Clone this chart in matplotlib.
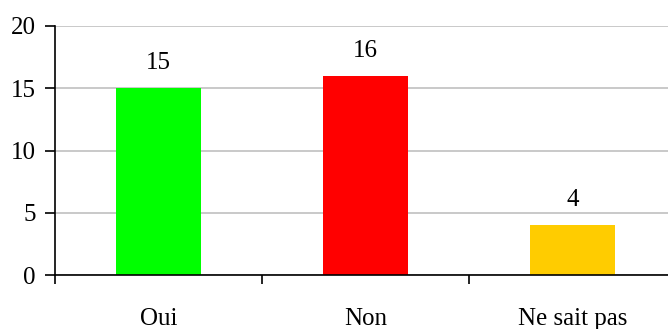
import matplotlib.pyplot as plt

categories = ['Oui', 'Non', 'Ne sait pas']
values = [15, 16, 4]
colors = ['#00ff00', '#ff0000', '#ffcc00']
yticks = [0, 5, 10, 15, 20]

plt.rcParams['font.family'] = ['Liberation Serif', 'DejaVu Serif']

fig = plt.figure(figsize=(6.68, 3.29), dpi=100)
ax = fig.add_axes([55 / 668, 54 / 329, 621 / 668, 249 / 329])

x = range(len(categories))
bars = ax.bar(x, values, width=0.41, color=colors, zorder=3)

for i, v in enumerate(values):
    ax.text(i, v + 2.0, str(v), ha='center', va='center', fontsize=18)

ax.set_xlim(-0.5, 2.5)
ax.set_ylim(0, 20)
ax.set_yticks(yticks)
ax.set_yticklabels([str(t) for t in yticks], fontsize=18)
ax.yaxis.grid(True, color='#c0c0c0', linewidth=1.2, zorder=0)

# ticks on category boundaries, labels centred under the bars
ax.set_xticks([-0.5, 0.5, 1.5, 2.5])
ax.set_xticklabels([])
ax.set_xticks(list(x), minor=True)
ax.set_xticklabels(categories, minor=True, fontsize=18)
ax.tick_params(axis='x', which='minor', length=0, pad=23.5)
ax.tick_params(axis='x', which='major', length=6.5, width=1.2, direction='out')
ax.tick_params(axis='y', length=7, width=1.2, direction='out', pad=7)

ax.spines['top'].set_visible(False)
ax.spines['right'].set_visible(False)
ax.spines['left'].set_linewidth(1.2)
ax.spines['bottom'].set_linewidth(1.2)
ax.spines['bottom'].set_zorder(4)

fig.savefig('out.png', dpi=100)
